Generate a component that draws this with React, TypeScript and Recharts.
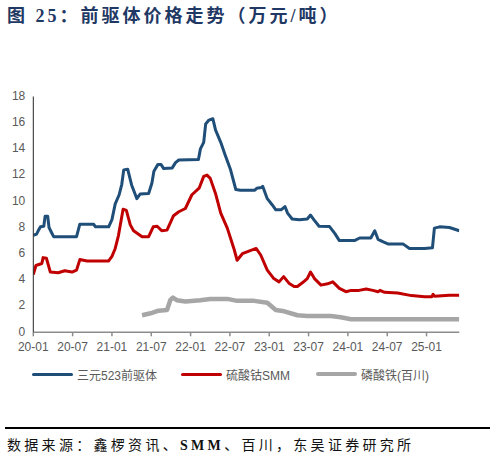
import React from "react";
import { LineChart, Line, XAxis, YAxis } from "recharts";

// month index since 2020-01
const xTicks = [0, 6, 12, 18, 24, 30, 36, 42, 48, 54, 60];
const xTickLabels = ["20-01", "20-07", "21-01", "21-07", "22-01", "22-07", "23-01", "23-07", "24-01", "24-07", "25-01"];
const yTicks = [0, 2, 4, 6, 8, 10, 12, 14, 16, 18];

const seriesNames = ["三元523前驱体", "硫酸钴SMM", "磷酸铁(百川)"];
const seriesColors = ["#1f4e79", "#c00000", "#a6a6a6"];

const ternaryPoints: [number, number][] = [
  [0, 7.4], [0.5, 7.5], [0.8, 7.8], [1.1, 8.05], [1.6, 8.1], [1.8, 8.85], [2.2, 8.85], [2.4, 8.0], [2.8, 7.6], [3.1, 7.3],
  [6.6, 7.3], [7.1, 8.25], [9.2, 8.25], [9.5, 8.05], [11.5, 8.05], [12.0, 8.6], [12.5, 9.8], [13.1, 10.5], [13.5, 11.3],
  [13.8, 12.4], [14.4, 12.45], [15.0, 11.25], [15.5, 10.6], [15.8, 10.2], [16.3, 10.55], [17.6, 10.6], [18.1, 11.4],
  [18.4, 12.3], [19.0, 12.8], [19.5, 12.8], [19.9, 12.5], [21.2, 12.55], [21.7, 12.95], [22.2, 13.15], [25.2, 13.2],
  [25.5, 14.0], [26.0, 14.5], [26.3, 15.9], [26.8, 16.2], [27.4, 16.3], [27.8, 15.45], [28.6, 14.5], [29.3, 13.5],
  [30.1, 12.4], [30.9, 10.9], [31.6, 10.85], [33.8, 10.85], [34.1, 11.0], [34.8, 11.05], [35.0, 11.15], [35.7, 10.2],
  [36.5, 9.7], [37.0, 9.35], [37.8, 9.35], [38.4, 9.6], [38.8, 9.1], [39.5, 8.65], [40.6, 8.6], [41.8, 8.65], [42.3, 8.95],
  [42.8, 8.6], [43.6, 8.1], [45.2, 8.07], [46.0, 7.55], [46.7, 7.0], [49.0, 7.0], [49.8, 7.2], [51.5, 7.2], [52.1, 7.75],
  [52.6, 7.1], [53.4, 6.9], [54.1, 6.75], [56.4, 6.75], [57.4, 6.4], [59.7, 6.4], [60.9, 6.45], [61.2, 7.95], [62.0, 8.05],
  [63.5, 8.0], [65, 7.75],
];

const cobaltPoints: [number, number][] = [
  [0, 4.4], [0.4, 5.1], [1.3, 5.25], [1.5, 5.7], [2.0, 5.65], [2.6, 4.6], [3.8, 4.55], [4.8, 4.7], [5.9, 4.6], [6.6, 4.75],
  [7.1, 5.55], [8.2, 5.45], [11.5, 5.45], [12.0, 5.8], [12.5, 6.4], [13.0, 7.4], [13.7, 9.4], [14.2, 9.3], [14.8, 8.2],
  [15.3, 7.75], [16.6, 7.3], [17.6, 7.3], [18.3, 8.05], [18.9, 8.1], [19.6, 7.75], [20.4, 7.8], [21.4, 8.9], [22.2, 9.2],
  [23.2, 9.45], [24.2, 10.5], [25.3, 11.0], [26.0, 11.9], [26.5, 12.0], [27.0, 11.75], [27.8, 10.6], [28.6, 9.1],
  [29.6, 7.95], [30.6, 6.4], [31.1, 5.5], [31.9, 6.0], [32.9, 6.2], [34.0, 6.4], [34.7, 5.9], [35.7, 4.75], [36.7, 4.1],
  [37.5, 3.85], [38.2, 4.25], [39.0, 3.75], [39.8, 3.5], [40.3, 3.5], [41.1, 3.8], [41.8, 4.1], [42.3, 4.6], [42.9, 4.1],
  [43.9, 3.6], [44.9, 3.7], [45.7, 3.85], [46.7, 3.35], [47.7, 3.1], [48.5, 3.2], [49.7, 3.2], [50.8, 3.3], [51.8, 3.2],
  [52.6, 3.1], [52.9, 3.2], [53.6, 3.05], [55.6, 3.0], [57.7, 2.8], [59.7, 2.72], [60.8, 2.72], [61.0, 2.9], [61.2, 2.75],
  [63.5, 2.82], [65, 2.82],
];

const ironPoints: [number, number][] = [
  [16.6, 1.3], [17.9, 1.45], [19.1, 1.65], [20.4, 1.7], [20.9, 2.45], [21.3, 2.65], [21.9, 2.45], [23.2, 2.35],
  [25.5, 2.45], [27.0, 2.55], [29.6, 2.55], [31.1, 2.4], [33.7, 2.4], [35.7, 2.25], [37.0, 1.7], [38.3, 1.6],
  [40.3, 1.3], [41.8, 1.25], [45.4, 1.25], [46.9, 1.15], [48.5, 1.0], [65, 1.0],
];

const toRows = (pts: [number, number][]) => pts.map(([m, v]) => ({ m, v }));
const seriesData = [toRows(ternaryPoints), toRows(cobaltPoints), toRows(ironPoints)];
const seriesWidths = [3, 3, 4.5];

const legendLeft = [32, 181, 316];

export default function App() {
  const tickStyle = { fill: "#595959", fontSize: 12, fontFamily: "'Liberation Sans', Arial, sans-serif" };
  return (
    <div style={{ position: "absolute", left: 0, top: 0, width: 496, height: 468, background: "#fff", overflow: "hidden" }}>
      <div
        style={{
          position: "absolute", left: 7, top: 7, fontSize: 18, lineHeight: "18px", fontWeight: "bold",
          color: "#1f3864", letterSpacing: 3, whiteSpace: "nowrap",
          fontFamily: "'Liberation Serif', 'Noto Sans CJK SC', serif",
        }}
      >
        图 25：前驱体价格走势（万元/吨）
      </div>
      <div style={{ position: "absolute", left: 0, top: 0 }}>
        <LineChart width={496} height={360} margin={{ top: 96.5, right: 36.7, left: 0, bottom: 7.7 }}>
          <XAxis
            type="number"
            dataKey="m"
            domain={[0, 65]}
            ticks={xTicks}
            tickFormatter={(v: number) => xTickLabels[xTicks.indexOf(v)] ?? ""}
            allowDataOverflow
            height={20}
            stroke="#8c8c8c"
            strokeWidth={1.5}
            tickSize={4}
            tickMargin={6}
            tick={tickStyle}
            interval={0}
          />
          <YAxis
            type="number"
            domain={[0, 18]}
            ticks={yTicks}
            width={33.3}
            stroke="#262626"
            tickLine={false}
            tickSize={0}
            tickMargin={8}
            tick={{ ...tickStyle, dy: -1 }}
            interval={0}
          />
          {[2, 1, 0].map((i) => (
            <Line
              key={i}
              data={seriesData[i]}
              dataKey="v"
              type="linear"
              stroke={seriesColors[i]}
              strokeWidth={seriesWidths[i]}
              strokeLinejoin="round"
              dot={false}
              activeDot={false}
              isAnimationActive={false}
              name={seriesNames[i]}
            />
          ))}
        </LineChart>
      </div>
      {seriesNames.map((name, i) => (
        <div key={name} style={{ position: "absolute", left: legendLeft[i], top: 366, height: 16, display: "flex", alignItems: "center" }}>
          <div style={{ width: 41, height: i === 2 ? 4.5 : 3, background: seriesColors[i], borderRadius: 2 }} />
          <span style={{ marginLeft: 4, fontSize: 12, color: "#595959", fontFamily: "'Liberation Sans', 'Noto Sans CJK SC', sans-serif", whiteSpace: "nowrap" }}>
            {name}
          </span>
        </div>
      ))}
      <div style={{ position: "absolute", left: 5, top: 426.5, width: 485, height: 2, background: "#000" }} />
      <div
        style={{
          position: "absolute", left: 7, top: 439, fontSize: 14, lineHeight: "14px", color: "#111",
          letterSpacing: 3.3, whiteSpace: "nowrap", fontFamily: "'Liberation Serif', 'Noto Sans CJK SC', serif",
        }}
      >
        数据来源：鑫椤资讯、<b>SMM</b>、百川，东吴证券研究所
      </div>
    </div>
  );
}
